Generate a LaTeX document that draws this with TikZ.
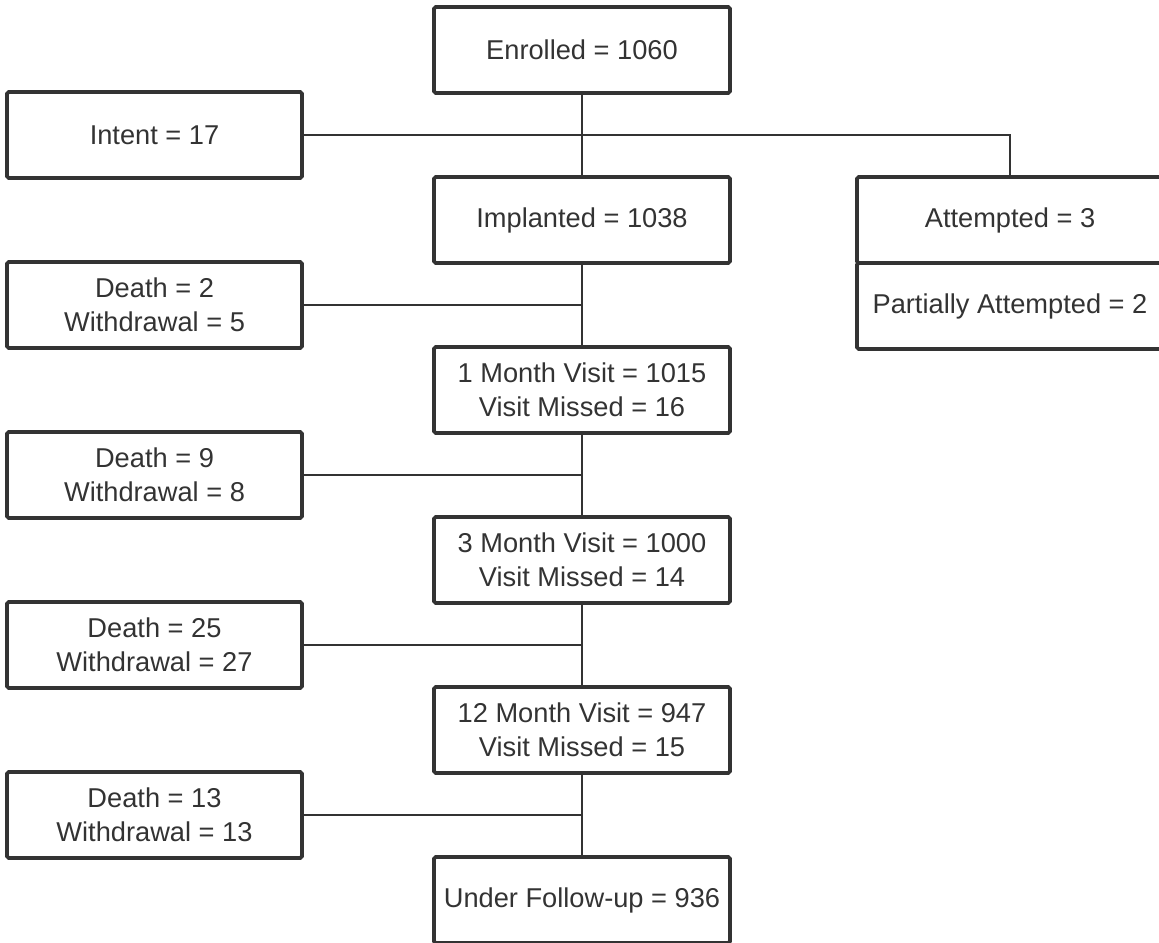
\documentclass[tikz,border=0pt]{standalone}
\usepackage{fontspec}
\setmainfont{Liberation Sans}
\usetikzlibrary{positioning, calc}
\definecolor{linecolor}{RGB}{51,51,51}

\begin{document}
\begin{tikzpicture}[node distance=1.68cm,
    mainbox/.style={rectangle, draw=linecolor, line width=2.1pt, text=linecolor, minimum width=5.92cm, minimum height=1.72cm, align=center, outer sep=0pt, rounded corners=1pt, font=\fontsize{15.5}{19.5}\selectfont},
    sidebox/.style={mainbox, minimum width=5.9cm},
    splitbox/.style={mainbox, minimum width=6.12cm},
    link/.style={draw=linecolor, line width=0.9pt}]
    \useasboundingbox (0,0) rectangle (23.18,-18.84);

    % Nodes
    \node [mainbox] (enrolled) at (11.64,-1.0) {Enrolled = 1060};
    \node [mainbox, below=of enrolled] (implanted) {Implanted = 1038};
    \node [mainbox, below=of implanted] (monthone) {1 Month Visit = 1015\\Visit Missed = 16};
    \node [mainbox, below=of monthone] (monththree) {3 Month Visit = 1000\\Visit Missed = 14};
    \node [mainbox, below=of monththree] (monthtwelve) {12 Month Visit = 947\\Visit Missed = 15};
    \node [mainbox, below=of monthtwelve] (followup) {Under Follow-up = 936};

    % Losses on the left
    \node [sidebox] (intent) at ($(enrolled)!0.5!(implanted)+(-8.55,0)$) {Intent = 17};
    \node [sidebox] (lossa) at ($(implanted)!0.5!(monthone)+(-8.55,0)$) {Death = 2\\Withdrawal = 5};
    \node [sidebox] (lossb) at ($(monthone)!0.5!(monththree)+(-8.55,0)$) {Death = 9\\Withdrawal = 8};
    \node [sidebox] (lossc) at ($(monththree)!0.5!(monthtwelve)+(-8.55,0)$) {Death = 25\\Withdrawal = 27};
    \node [sidebox] (lossd) at ($(monthtwelve)!0.5!(followup)+(-8.55,0)$) {Death = 13\\Withdrawal = 13};

    % Attempted on the right
    \node [splitbox, anchor=north west] (attempted) at ($(implanted.north east)+(2.54,0)$) {Attempted = 3};
    \node [splitbox, below=0pt of attempted] (partial) {Partially Attempted = 2};

    % Lines
    \draw [link] (enrolled) -- (implanted);
    \draw [link] (implanted) -- (monthone);
    \draw [link] (monthone) -- (monththree);
    \draw [link] (monththree) -- (monthtwelve);
    \draw [link] (monthtwelve) -- (followup);
    \draw [link] (intent.east) -| (attempted.north);
    \draw [link] (lossa.east) -- (lossa -| implanted);
    \draw [link] (lossb.east) -- (lossb -| monthone);
    \draw [link] (lossc.east) -- (lossc -| monththree);
    \draw [link] (lossd.east) -- (lossd -| monthtwelve);
\end{tikzpicture}
\end{document}
